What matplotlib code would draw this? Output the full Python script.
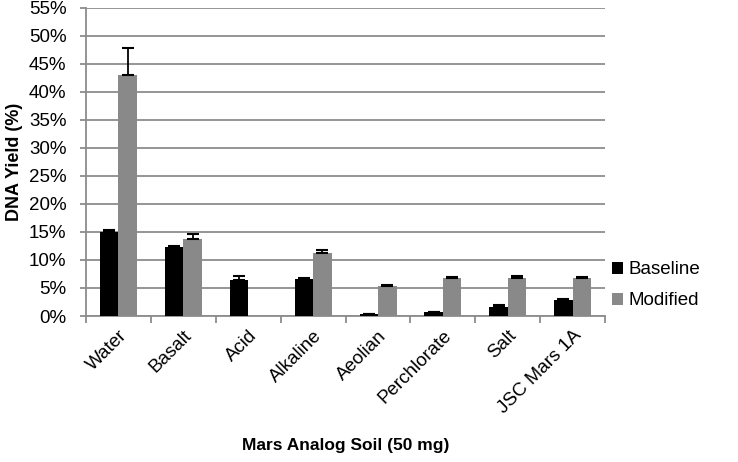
import numpy as np
import matplotlib
matplotlib.use("Agg")
import matplotlib.pyplot as plt
import matplotlib.transforms as mtrans
from matplotlib.ticker import FuncFormatter

plt.rcParams['font.family'] = ['Liberation Sans', 'DejaVu Sans']

# data
soils = ["Water", "Basalt", "Acid", "Alkaline", "Aeolian", "Perchlorate", "Salt", "JSC Mars 1A"]
baseline = [15.0, 12.3, 6.5, 6.6, 0.3, 0.7, 1.6, 2.9]
baseline_err = [0.4, 0.2, 0.6, 0.2, 0.1, 0.1, 0.3, 0.2]
modified = [43.0, 13.8, 0.0, 11.3, 5.3, 6.7, 6.7, 6.7]
modified_err = [4.8, 0.8, 0.0, 0.5, 0.2, 0.2, 0.5, 0.2]

fig = plt.figure(figsize=(7.38, 4.62), dpi=100)
ax = fig.add_axes([0.1165, 0.316, 0.7035, 0.667])

x = np.arange(len(soils))
w = 0.285
grey = "#898989"
axcol = "#8c8c8c"
ekw = dict(ecolor="black", capsize=4, elinewidth=1.3, capthick=1.5)

ax.bar(x - w/2, baseline, w, color="black", label="Baseline", zorder=3)
ax.bar(x + w/2, modified, w, color=grey, label="Modified", zorder=3)

# plus-only error bars, skipped where there is no bar
b = np.array(baseline)
m = np.array(modified)
keep = b > 0
ax.errorbar(x[keep] - w/2, b[keep], yerr=[np.zeros(keep.sum()), np.array(baseline_err)[keep]],
            fmt="none", zorder=4, **ekw)
keep = m > 0
ax.errorbar(x[keep] + w/2, m[keep], yerr=[np.zeros(keep.sum()), np.array(modified_err)[keep]],
            fmt="none", zorder=4, **ekw)

ax.set_xlim(-0.5, len(soils) - 0.5)
ax.set_ylim(0, 55)
ax.set_yticks(np.arange(0, 56, 5))
ax.yaxis.set_major_formatter(FuncFormatter(lambda v, p: "%d%%" % v))
ax.yaxis.grid(True, color=axcol, linewidth=1.3, zorder=0)

ax.set_xticks(x)
ax.set_xticklabels(soils, rotation=45, ha="right", rotation_mode="anchor", fontsize=13.5)
shift = mtrans.ScaledTranslation(-8/100, 0, fig.dpi_scale_trans)
for lab in ax.get_xticklabels():
    lab.set_transform(lab.get_transform() + shift)
ax.set_xticks(np.arange(-0.5, len(soils)), minor=True)
ax.tick_params(axis="x", which="major", length=0, pad=8)
ax.tick_params(axis="x", which="minor", length=5, color=axcol, width=1.3)
ax.tick_params(axis="y", length=4, color=axcol, width=1.3, labelsize=13.5, pad=10)

for s in ["top", "right"]:
    ax.spines[s].set_visible(False)
for s in ["left", "bottom"]:
    ax.spines[s].set_color(axcol)
    ax.spines[s].set_linewidth(1.3)

ax.set_ylabel("DNA Yield (%)", fontsize=13, fontweight="bold", labelpad=4)
ax.set_xlabel("Mars Analog Soil (50 mg)", fontsize=12.5, fontweight="bold", labelpad=15)

leg = ax.legend(loc="center left", bbox_to_anchor=(0.98, 0.10), frameon=False,
                fontsize=13.5, handlelength=0.6, handleheight=0.6,
                handletextpad=0.3, labelspacing=0.75)

fig.savefig("out.png", dpi=100)
